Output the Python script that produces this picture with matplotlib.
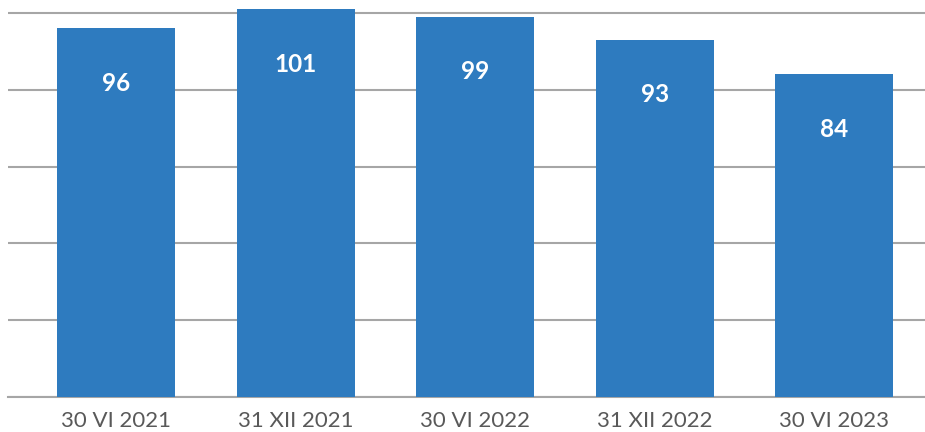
import matplotlib
matplotlib.use("Agg")
import matplotlib.pyplot as plt

categories = ["30 VI 2021", "31 XII 2021", "30 VI 2022", "31 XII 2022", "30 VI 2023"]
values = [96, 101, 99, 93, 84]
y_ticks = [0, 20, 40, 60, 80, 100]

BAR_COLOR = "#2E7BBF"
GRID_COLOR = "#A6A6A6"
TEXT_COLOR = "#595959"

plt.rcParams["font.family"] = ["Lato", "DejaVu Sans"]

fig = plt.figure(figsize=(9.25, 4.32), dpi=100)
ax = fig.add_axes([0.0087, 0.081, 0.9913, 0.919])

x = list(range(len(categories)))
bars = ax.bar(x, values, width=0.657, color=BAR_COLOR, zorder=3)

for bar, v in zip(bars, values):
    ax.annotate(
        str(v),
        xy=(bar.get_x() + bar.get_width() / 2, bar.get_height()),
        xytext=(0, -39.6),
        textcoords="offset points",
        ha="center",
        va="center",
        color="white",
        fontsize=17.5,
        fontweight="bold",
        zorder=4,
    )

ax.set_xlim(-0.601, 4.504)
ax.set_ylim(0, 103.4)
ax.set_yticks(y_ticks)
ax.yaxis.grid(True, color=GRID_COLOR, linewidth=1.5, zorder=0)
ax.tick_params(axis="y", left=False, labelleft=False)
ax.set_xticks(x)
ax.set_xticklabels(categories, fontsize=16, color=TEXT_COLOR)
ax.tick_params(axis="x", length=0, pad=10)
for side in ["top", "right", "left"]:
    ax.spines[side].set_visible(False)
ax.spines["bottom"].set_color(GRID_COLOR)
ax.spines["bottom"].set_linewidth(1.5)

fig.savefig("out.png", dpi=100)
